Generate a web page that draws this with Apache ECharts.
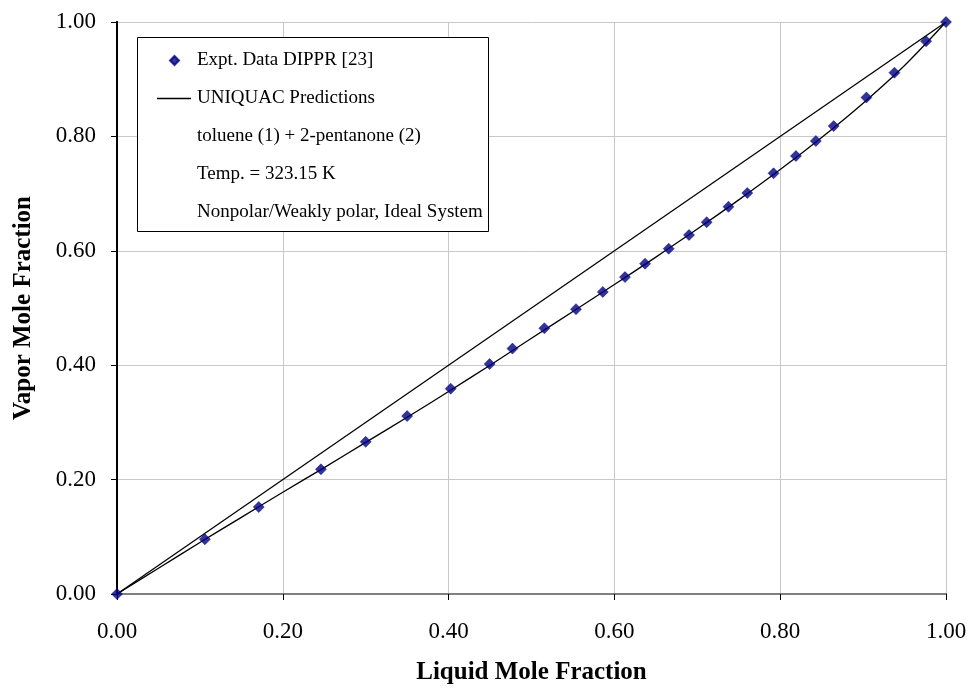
<!DOCTYPE html>
<html><head><meta charset="utf-8">
<script src="https://cdn.jsdelivr.net/npm/echarts@6/dist/echarts.min.js"></script>
<style>html,body{margin:0;padding:0;background:#fff}#c{width:971px;height:690px}</style>
</head><body><div id="c"></div>
<script>
// Experimental data (x1, y1)
const exptX = [0.000,0.106,0.171,0.246,0.300,0.350,0.4025,0.4495,0.477,0.5155,0.5537,0.586,0.6128,0.637,0.6655,0.690,0.7113,0.7376,0.7603,0.792,0.819,0.843,0.8645,0.904,0.9378,0.976,1.000];
const exptY = [0.000,0.0956,0.152,0.218,0.266,0.311,0.359,0.402,0.429,0.4645,0.498,0.528,0.554,0.5775,0.6037,0.6276,0.650,0.677,0.701,0.7355,0.7657,0.792,0.818,0.868,0.9114,0.9663,1.000];
// UNIQUAC prediction curve
const uniqX = [0.00,0.05,0.10,0.15,0.20,0.25,0.30,0.35,0.40,0.45,0.50,0.55,0.60,0.65,0.70,0.75,0.80,0.85,0.90,0.95,1.00];
const uniqY = [0.000,0.045,0.090,0.134,0.178,0.221,0.265,0.309,0.354,0.400,0.447,0.494,0.541,0.589,0.638,0.689,0.742,0.798,0.858,0.924,1.000];
// Diagonal y = x
const diagX = [0, 1];
const diagY = [0, 1];
const tickVals = [0.00,0.20,0.40,0.60,0.80,1.00];
const legendNotes = ['toluene (1) + 2-pentanone (2)','Temp. = 323.15 K','Nonpolar/Weakly polar, Ideal System'];

const F = '"Liberation Serif","Times New Roman",serif';
const zip = (a,b)=>a.map((v,i)=>[v,b[i]]);
const chart = echarts.init(document.getElementById('c'));
const axisCommon = {
  type:'value', min:0, max:1, interval:0.2,
  axisLabel:{fontFamily:F,fontSize:23,color:'#000',formatter:v=>v.toFixed(2)},
  splitLine:{show:true,lineStyle:{color:'#c8c8c8',width:1}},
  axisLine:{show:true,lineStyle:{color:'#000',width:2}},
  axisTick:{show:true,inside:false,length:6,lineStyle:{color:'#000',width:1}}
};
const legText = {fontFamily:F,fontSize:19,color:'#000'};
chart.setOption({
  animation:false,
  backgroundColor:'#fff',
  grid:{left:117,right:25,top:22,bottom:96,containLabel:false},
  xAxis:[
    Object.assign({},axisCommon,{position:'bottom',name:'Liquid Mole Fraction',nameLocation:'middle',nameGap:66,
      nameTextStyle:{fontFamily:F,fontSize:25,fontWeight:'bold',color:'#000'},
      axisLabel:Object.assign({},axisCommon.axisLabel,{margin:26})}),
    {type:'value',min:0,max:1,position:'top',axisLine:{show:true,lineStyle:{color:'#808080',width:2}},axisTick:{show:false},axisLabel:{show:false},splitLine:{show:false}}
  ],
  yAxis:[
    Object.assign({},axisCommon,{position:'left',name:'Vapor Mole Fraction',nameLocation:'middle',nameGap:81,
      nameTextStyle:{fontFamily:F,fontSize:25,fontWeight:'bold',color:'#000'},
      axisLabel:Object.assign({},axisCommon.axisLabel,{margin:21})}),
    {type:'value',min:0,max:1,position:'right',axisLine:{show:true,lineStyle:{color:'#000',width:2}},axisTick:{show:false},axisLabel:{show:false},splitLine:{show:false}}
  ],
  legend:[
    {left:169, top:51, padding:0, itemWidth:9, itemHeight:9, z:20, textStyle:Object.assign({padding:[0,0,0,13]},legText),
     data:[{name:'Expt. Data DIPPR [23]',icon:'diamond',itemStyle:{color:'#000080'}}]},
    {left:157, top:89, padding:0, itemWidth:34, itemHeight:1.4, z:20, textStyle:Object.assign({padding:[0,0,0,1]},legText),
     data:[{name:'UNIQUAC Predictions',icon:'rect',itemStyle:{color:'#000'}}]}
  ],
  graphic:[
    {type:'rect',left:137,top:37,shape:{width:351,height:194},style:{fill:'#fff',stroke:'#000',lineWidth:1},z:6},
    ...legendNotes.map((t,i)=>({type:'text',left:197,top:127+i*38,style:{text:t,font:'19px '+F,fill:'#000'},z:20}))
  ],
  series:[
    {name:'y=x',type:'line',data:zip(diagX,diagY),symbol:'none',lineStyle:{color:'#000',width:1.3},z:2},
    {name:'UNIQUAC Predictions',type:'line',data:zip(uniqX,uniqY),symbol:'none',smooth:0.3,lineStyle:{color:'#000',width:1.3},itemStyle:{color:'#000'},z:3},
    {name:'Expt. Data DIPPR [23]',type:'scatter',data:zip(exptX,exptY),symbol:'diamond',symbolSize:11,itemStyle:{color:'#000080',borderColor:'#000080',borderWidth:0.6},z:4}
  ]
});
</script></body></html>
